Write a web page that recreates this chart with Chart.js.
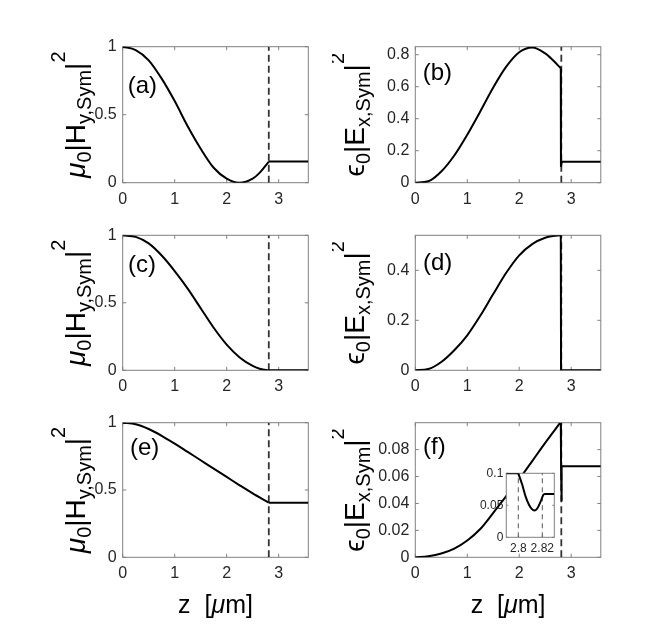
<!DOCTYPE html>
<html><head><meta charset="utf-8">
<script src="https://cdn.jsdelivr.net/npm/chart.js@4.4.1/dist/chart.umd.min.js"></script>
<style>
html,body{margin:0;padding:0;background:#fff;}
#wrap{position:relative;width:664px;height:627px;overflow:hidden;background:#fff;}
.pc{position:absolute;}
</style></head><body><div id="wrap"></div>
<script>
// ---------------- data ----------------
const zMax = 3.57;
const interfaceZ = 2.81;
const xTicks = [0, 1, 2, 3];
const xTickLabels = ['0', '1', '2', '3'];

const yTicksH = [0, 0.5, 1];
const yTickLabelsH = ['0', '0.5', '1'];
const yTicksB = [0, 0.2, 0.4, 0.6, 0.8];
const yTickLabelsB = ['0', '0.2', '0.4', '0.6', '0.8'];
const yTicksD = [0, 0.2, 0.4];
const yTickLabelsD = ['0', '0.2', '0.4'];
const yTicksF = [0, 0.02, 0.04, 0.06, 0.08];
const yTickLabelsF = ['0', '0.02', '0.04', '0.06', '0.08'];
const yMaxH = 1, yMaxB = 0.85, yMaxD = 0.54, yMaxF = 0.1;

// (a) mu0|Hy|^2
const zA = [0, 0.25, 0.5, 0.75, 1, 1.25, 1.5, 1.75, 2, 2.24, 2.5, 2.65, 2.81];
const hA = [1, 0.975, 0.9, 0.765, 0.6, 0.415, 0.25, 0.11, 0.03, 0, 0.03, 0.08, 0.155];
const zTailA = [2.81, 3.57];
const hTailA = [0.155, 0.155];

// (b) eps0|Ex|^2
const zB = [0, 0.25, 0.5, 0.75, 1, 1.25, 1.5, 1.75, 2, 2.25, 2.5, 2.65, 2.8];
const eB = [0, 0.009, 0.07, 0.17, 0.3, 0.445, 0.595, 0.725, 0.815, 0.845, 0.808, 0.765, 0.715];
const zTailB = [2.8, 2.803, 2.82, 3.57];
const eTailB = [0.715, 0.1, 0.131, 0.131];

// (c)
const zC = [0, 0.25, 0.5, 0.75, 1, 1.25, 1.5, 1.75, 2, 2.25, 2.5, 2.65, 2.81];
const hC = [1, 0.988, 0.94, 0.85, 0.735, 0.605, 0.46, 0.315, 0.19, 0.095, 0.033, 0.01, 0];
const zTailC = [2.81, 3.57];
const hTailC = [0, 0];

// (d)
const zD = [0, 0.25, 0.5, 0.75, 1, 1.25, 1.5, 1.75, 2, 2.25, 2.5, 2.65, 2.8];
const eD = [0, 0.005, 0.033, 0.08, 0.14, 0.218, 0.305, 0.39, 0.46, 0.505, 0.53, 0.537, 0.54];
const zTailD = [2.8, 2.805, 3.57];
const eTailD = [0.54, 0, 0];

// (e)
const zE = [0, 0.25, 0.5, 0.75, 1, 1.25, 1.5, 1.75, 2, 2.25, 2.5, 2.81];
const hE = [1, 0.988, 0.953, 0.903, 0.845, 0.783, 0.721, 0.659, 0.597, 0.535, 0.475, 0.406];
const zTailE = [2.81, 3.57];
const hTailE = [0.406, 0.406];

// (f)
const zF = [0, 0.25, 0.5, 0.75, 1, 1.25, 1.5, 1.75, 2, 2.25, 2.5, 2.79];
const eF = [0, 0.0008, 0.0028, 0.0065, 0.0125, 0.021, 0.033, 0.0455, 0.058, 0.0715, 0.085, 0.1];
const zTailF = [2.8215, 3.57];
const eTailF = [0.0677, 0.0677];

// (f) inset
const zIn = [2.79, 2.8, 2.8033, 2.8061, 2.809, 2.8114, 2.8132, 2.8158, 2.8186, 2.8208, 2.8215, 2.83];
const eIn = [0.1, 0.1, 0.082, 0.0635, 0.0505, 0.044, 0.0417, 0.045, 0.0557, 0.066, 0.0677, 0.0677];
const insetRange = [2.79, 2.83];
const insetXTicks = [2.8, 2.82];
const insetXTickLabels = ['2.8', '2.82'];
const insetYTicks = [0, 0.05, 0.1];
const insetYTickLabels = ['0', '0.05', '0.1'];
const insetMarks = [2.8, 2.82];

// ---------------- drawing helpers ----------------
const FONT = '"Liberation Sans", Arial, Helvetica, "DejaVu Sans", sans-serif';
const AXIS_COLOR = '#808080';
const TEXT_COLOR = '#262626';

function pts(zs, vs) { return zs.map((z, i) => ({ x: z, y: vs[i] })); }

function drawRich(ctx, parts, px, py, rotate) {
  ctx.save();
  ctx.translate(px, py);
  if (rotate) ctx.rotate(-Math.PI / 2);
  ctx.textAlign = 'left';
  ctx.textBaseline = 'alphabetic';
  ctx.fillStyle = '#000';
  let total = 0;
  const ws = parts.map(p => { ctx.font = p.font; const w = ctx.measureText(p.t).width; total += w; return w; });
  let x = -total / 2;
  parts.forEach((p, i) => { ctx.font = p.font; ctx.fillText(p.t, x, p.dy || 0); x += ws[i]; });
  ctx.restore();
}

const framePlugin = {
  id: 'frame',
  beforeDraw(chart, args, o) {
    if (o.fill) {
      const a = chart.chartArea, ctx = chart.ctx;
      ctx.save(); ctx.fillStyle = o.fill;
      ctx.fillRect(a.left, a.top, a.right - a.left, a.bottom - a.top);
      ctx.restore();
    }
  },
  beforeDatasetsDraw(chart, args, o) {
    const ctx = chart.ctx, a = chart.chartArea, xs = chart.scales.x, ys = chart.scales.y;
    const L = o.tick || 3.5;
    ctx.save();
    ctx.strokeStyle = AXIS_COLOR; ctx.lineWidth = 1;
    ctx.strokeRect(a.left, a.top, a.right - a.left, a.bottom - a.top);
    ctx.beginPath();
    xs.ticks.forEach(t => {
      const p = xs.getPixelForValue(t.value);
      ctx.moveTo(p, a.bottom); ctx.lineTo(p, a.bottom - L);
      ctx.moveTo(p, a.top); ctx.lineTo(p, a.top + L);
    });
    ys.ticks.forEach(t => {
      const p = ys.getPixelForValue(t.value);
      ctx.moveTo(a.left, p); ctx.lineTo(a.left + L, p);
      ctx.moveTo(a.right, p); ctx.lineTo(a.right - L, p);
    });
    ctx.stroke();
    ctx.restore();
  }
};

const labelPlugin = {
  id: 'labels',
  afterDraw(chart, args, o) {
    const ctx = chart.ctx, a = chart.chartArea;
    ctx.save();
    if (o.letter) {
      ctx.fillStyle = '#000';
      ctx.font = '24px ' + FONT;
      ctx.textBaseline = 'middle'; ctx.textAlign = 'left';
      ctx.fillText(o.letter, a.left + o.letterDx, a.top + o.letterDy);
    }
    if (o.ylabel) drawRich(ctx, o.ylabel, o.ylabelX, (a.top + a.bottom) / 2, true);
    if (o.xlabel) drawRich(ctx, o.xlabel, (a.left + a.right) / 2, o.xlabelY, false);
    ctx.restore();
  }
};

const M = 28, S = 20;
const ylabelH = [
  { t: 'μ', font: `italic ${M}px ${FONT}` },
  { t: '0', font: `${S}px ${FONT}`, dy: 6 },
  { t: '|H', font: `${M}px ${FONT}` },
  { t: 'y,Sym', font: `${S}px ${FONT}`, dy: 6 },
  { t: '|', font: `${M}px ${FONT}` },
  { t: '2', font: `${S}px ${FONT}`, dy: -20 }
];
const ylabelE = [
  { t: 'ϵ', font: `${M}px ${FONT}` },
  { t: '0', font: `${S}px ${FONT}`, dy: 6 },
  { t: '|E', font: `${M}px ${FONT}` },
  { t: 'x,Sym', font: `${S}px ${FONT}`, dy: 6 },
  { t: '|', font: `${M}px ${FONT}` },
  { t: '2', font: `${S}px ${FONT}`, dy: -20 }
];
const xlabelParts = [
  { t: 'z  [', font: `25px ${FONT}` },
  { t: 'μ', font: `italic 25px ${FONT}` },
  { t: 'm]', font: `25px ${FONT}` }
];

function curve(data, smooth) {
  return { data, borderColor: '#000', borderWidth: 2, pointRadius: 0, fill: false,
    tension: smooth ? 0.4 : 0, cubicInterpolationMode: smooth ? 'monotone' : 'default' };
}
function dashed(z, y0, y1, color, w, dash) {
  return { data: [{ x: z, y: y0 }, { x: z, y: y1 }], borderColor: color, borderWidth: w,
    borderDash: dash, pointRadius: 0, fill: false, tension: 0 };
}

function makeChart(cfg) {
  const wrap = document.getElementById('wrap');
  const div = document.createElement('div');
  div.className = 'pc';
  const b = cfg.box;
  div.style.left = b.left + 'px'; div.style.top = b.top + 'px';
  div.style.width = b.width + 'px'; div.style.height = b.height + 'px';
  const cv = document.createElement('canvas');
  div.appendChild(cv); wrap.appendChild(div);
  const p = cfg.plot;
  const yW = p.l - b.left, xH = (b.top + b.height) - p.b;
  const fs = cfg.tickSize || 16;
  new Chart(cv, {
    type: 'line',
    data: { datasets: cfg.datasets },
    options: {
      responsive: true, maintainAspectRatio: false, animation: false, events: [],
      layout: { padding: { left: 0, top: p.t - b.top, right: (b.left + b.width) - p.r, bottom: 0 } },
      plugins: {
        legend: { display: false }, tooltip: { enabled: false },
        frame: { fill: cfg.fill, tick: cfg.tickLen },
        labels: cfg.labels || {}
      },
      scales: {
        x: {
          type: 'linear', min: cfg.xmin, max: cfg.xmax,
          afterBuildTicks: s => { s.ticks = cfg.xTicks.map(v => ({ value: v })); },
          afterFit: s => { s.height = xH; },
          ticks: { callback: (v, i) => cfg.xLabels[i], color: TEXT_COLOR, padding: cfg.xPad || 7,
            font: { family: FONT, size: fs }, maxRotation: 0, autoSkip: false },
          grid: { display: false, drawTicks: false }, border: { display: false }
        },
        y: {
          type: 'linear', min: cfg.ymin, max: cfg.ymax,
          afterBuildTicks: s => { s.ticks = cfg.yTicks.map(v => ({ value: v })); },
          afterFit: s => { s.width = yW; },
          ticks: { callback: (v, i) => cfg.yLabels[i], color: TEXT_COLOR, padding: cfg.yPad || 6,
            font: { family: FONT, size: fs }, autoSkip: false },
          grid: { display: false, drawTicks: false }, border: { display: false }
        }
      }
    },
    plugins: [framePlugin, labelPlugin]
  });
}

// ---------------- layout ----------------
const colBox = [{ left: 0, width: 332 }, { left: 332, width: 332 }];
const rowBox = [{ top: 0, height: 212 }, { top: 212, height: 188 }, { top: 400, height: 227 }];
const colPlot = [{ l: 122.7, r: 308.3 }, { l: 415.3, r: 600.8 }];
const rowPlot = [{ t: 46.7, b: 182.7 }, { t: 235.3, b: 370.3 }, { t: 422.7, b: 557.3 }];
function box(r, c) { return { left: colBox[c].left, width: colBox[c].width, top: rowBox[r].top, height: rowBox[r].height }; }
function plot(r, c) { return { l: colPlot[c].l, r: colPlot[c].r, t: rowPlot[r].t, b: rowPlot[r].b }; }
const DASH_COLOR = '#333333';

const panels = [
  { r: 0, c: 0, z: zA, v: hA, tz: zTailA, tv: hTailA, ymax: yMaxH, yt: yTicksH, yl: yTickLabelsH, lab: '(a)', dx: 5, dy: 39.3, ylab: ylabelH },
  { r: 0, c: 1, z: zB, v: eB, tz: zTailB, tv: eTailB, ymax: yMaxB, yt: yTicksB, yl: yTickLabelsB, lab: '(b)', dx: 7.4, dy: 26.3, ylab: ylabelE },
  { r: 1, c: 0, z: zC, v: hC, tz: zTailC, tv: hTailC, ymax: yMaxH, yt: yTicksH, yl: yTickLabelsH, lab: '(c)', dx: 5.3, dy: 29.7, ylab: ylabelH },
  { r: 1, c: 1, z: zD, v: eD, tz: zTailD, tv: eTailD, ymax: yMaxD, yt: yTicksD, yl: yTickLabelsD, lab: '(d)', dx: 7.7, dy: 27.7, ylab: ylabelE },
  { r: 2, c: 0, z: zE, v: hE, tz: zTailE, tv: hTailE, ymax: yMaxH, yt: yTicksH, yl: yTickLabelsH, lab: '(e)', dx: 7.3, dy: 25.3, ylab: ylabelH },
  { r: 2, c: 1, z: zF, v: eF, tz: zTailF, tv: eTailF, ymax: yMaxF, yt: yTicksF, yl: yTickLabelsF, lab: '(f)', dx: 7.7, dy: 24.3, ylab: ylabelE }
];
const ylabelBaseX = [85, 31.7];

panels.forEach(P => {
  const ds = [curve(pts(P.z, P.v), true), curve(pts(P.tz, P.tv), false)];
  if (P.lab === '(f)') ds.push(curve(pts(zIn.slice(1), eIn.slice(1)), false));
  ds.push(dashed(interfaceZ, 0, P.ymax, DASH_COLOR, 1.8, [7, 4]));
  const labels = { letter: P.lab, letterDx: P.dx, letterDy: P.dy, ylabel: P.ylab, ylabelX: ylabelBaseX[P.c] };
  if (P.r === 2) { labels.xlabel = xlabelParts; labels.xlabelY = 213; }
  makeChart({
    box: box(P.r, P.c), plot: plot(P.r, P.c), datasets: ds,
    xmin: 0, xmax: zMax, ymin: 0, ymax: P.ymax,
    xTicks: xTicks, xLabels: xTickLabels, yTicks: P.yt, yLabels: P.yl, labels
  });
});

// inset in (f)
const insetDs = [
  curve(pts(zIn.slice(1, -1), eIn.slice(1, -1)), true),
  curve(pts(zIn.slice(0, 2), eIn.slice(0, 2)), false),
  curve(pts(zIn.slice(-2), eIn.slice(-2)), false)
];
insetMarks.forEach(z => insetDs.push(dashed(z, 0, 0.1, '#555', 1, [5, 4])));
makeChart({
  box: { left: 468, top: 463, width: 94, height: 97 },
  plot: { l: 506.3, t: 473.3, r: 554.3, b: 537.3 },
  datasets: insetDs, fill: '#fff', tickLen: 2, tickSize: 12, xPad: 4, yPad: 3,
  xmin: insetRange[0], xmax: insetRange[1], ymin: 0, ymax: 0.1,
  xTicks: insetXTicks, xLabels: insetXTickLabels, yTicks: insetYTicks, yLabels: insetYTickLabels
});
</script>
</body></html>
